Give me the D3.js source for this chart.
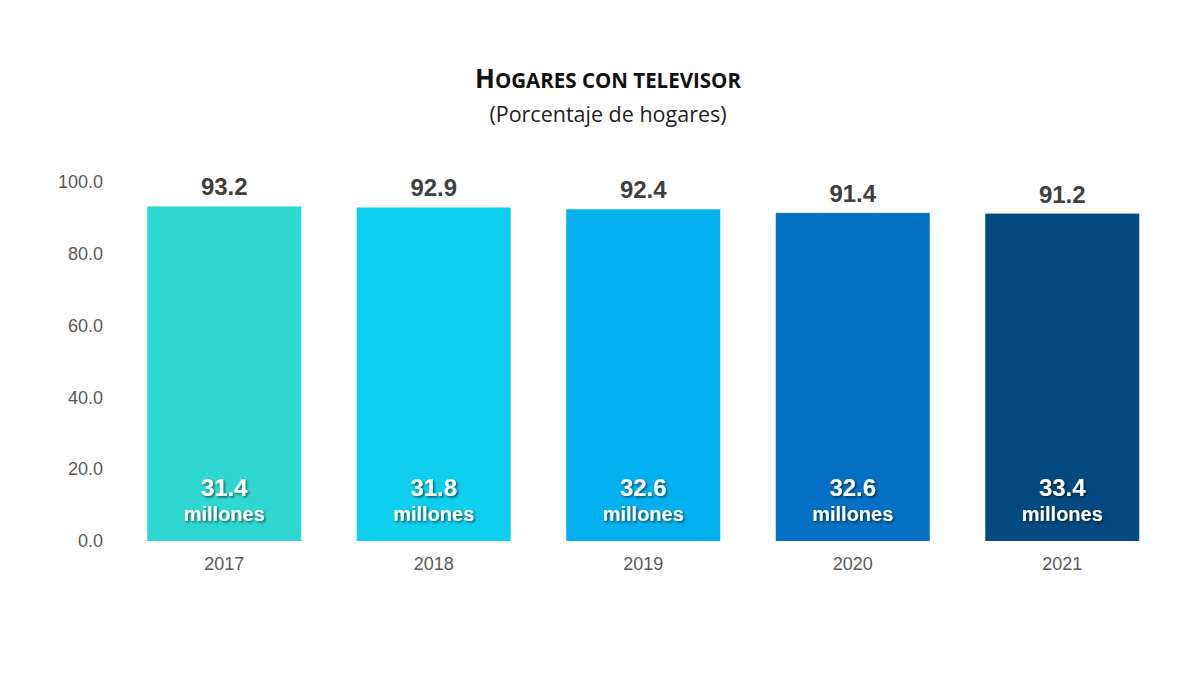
<!DOCTYPE html>
<html><head><meta charset="utf-8">
<script src="https://cdn.jsdelivr.net/npm/d3@7"></script>
<style>
html,body{margin:0;padding:0;background:#fff;}
</style></head>
<body>
<svg id="chart" width="1200" height="675"></svg>
<script>
const categories = ["2017","2018","2019","2020","2021"];
const percentValues = [93.2, 92.9, 92.4, 91.4, 91.2];
const millionValues = [31.4, 31.8, 32.6, 32.6, 33.4];
const barColors = ["#2ED8D0","#0ECFEE","#03B0EF","#0470C4","#034A82"];
const yTicks = [0, 20, 40, 60, 80, 100];

const svg = d3.select("#chart");
const defs = svg.append("defs");
const f = defs.append("filter").attr("id","shadow").attr("x","-20%").attr("y","-20%").attr("width","140%").attr("height","160%");
f.append("feDropShadow").attr("dx",1.5).attr("dy",1.5).attr("stdDeviation",1.2).attr("flood-color","#000").attr("flood-opacity",0.55);

const x = d3.scaleBand().domain(categories).range([119.5, 1167]).paddingInner(0.265).paddingOuter(0.1325);
const y = d3.scaleLinear().domain([0,100]).range([541, 182]);

// title
svg.append("text").attr("x",608).attr("y",88).attr("text-anchor","middle")
  .attr("font-family","'Open Sans', 'Noto Sans', sans-serif").attr("font-weight","bold").attr("fill","#111")
  .call(t=>{
    t.append("tspan").attr("font-size",26).text("H");
    t.append("tspan").attr("font-size",20.5).text("OGARES CON TELEVISOR");
  });
svg.append("text").attr("x",608).attr("y",122).attr("text-anchor","middle")
  .attr("font-family","'Open Sans', 'Noto Sans', sans-serif").attr("font-size",21.5).attr("fill","#222")
  .text("(Porcentaje de hogares)");

// y axis
const yAxis = d3.axisLeft(y).tickValues(yTicks).tickFormat(d3.format(".1f")).tickSize(0).tickPadding(0);
const gy = svg.append("g").attr("transform","translate(103,0)").call(yAxis);
gy.select(".domain").remove();
gy.selectAll("text").attr("font-family","'Liberation Sans', Arial, sans-serif").attr("font-size",18).attr("fill","#595959");

// x axis
const xAxis = d3.axisBottom(x).tickSize(0).tickPadding(0);
const gx = svg.append("g").attr("transform","translate(0,557)").call(xAxis);
gx.select(".domain").remove();
gx.selectAll("text").attr("font-family","'Liberation Sans', Arial, sans-serif").attr("font-size",18).attr("fill","#595959");

// bars
svg.selectAll("rect.bar").data(categories).enter().append("rect").attr("class","bar")
  .attr("x",d=>x(d)).attr("width",x.bandwidth())
  .attr("y",(d,i)=>y(percentValues[i])).attr("height",(d,i)=>y(0)-y(percentValues[i]))
  .attr("fill",(d,i)=>barColors[i]);

// top labels
svg.selectAll("text.top").data(categories).enter().append("text").attr("class","top")
  .attr("x",d=>x(d)+x.bandwidth()/2).attr("y",(d,i)=>y(percentValues[i])-11)
  .attr("text-anchor","middle").attr("font-family","'Liberation Sans', Arial, sans-serif")
  .attr("font-weight","bold").attr("font-size",24).attr("fill","#404040")
  .text((d,i)=>percentValues[i].toFixed(1));

// inner labels
const inner = svg.selectAll("g.inner").data(categories).enter().append("g").attr("class","inner")
  .attr("filter","url(#shadow)");
inner.append("text").attr("x",d=>x(d)+x.bandwidth()/2).attr("y",496)
  .attr("text-anchor","middle").attr("font-family","'Liberation Sans', Arial, sans-serif")
  .attr("font-weight","bold").attr("font-size",24).attr("fill","#fff")
  .text((d,i)=>millionValues[i].toFixed(1));
inner.append("text").attr("x",d=>x(d)+x.bandwidth()/2).attr("y",521)
  .attr("text-anchor","middle").attr("font-family","'Liberation Sans', Arial, sans-serif")
  .attr("font-weight","bold").attr("font-size",20).attr("fill","#fff")
  .text("millones");
</script>
</body></html>
